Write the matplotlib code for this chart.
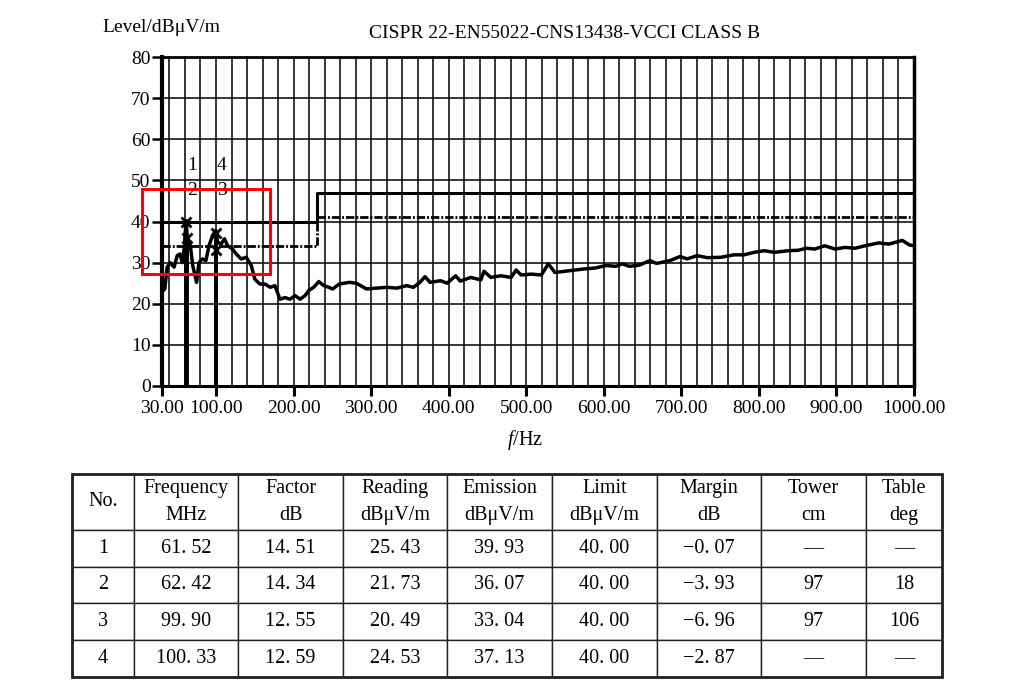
import numpy as np
import matplotlib.pyplot as plt
from matplotlib.patches import Rectangle

plt.rcParams['font.family'] = ['Liberation Serif', 'DejaVu Serif']
plt.rcParams['mathtext.fontset'] = 'custom'
plt.rcParams['mathtext.rm'] = 'Liberation Serif'
plt.rcParams['mathtext.it'] = 'Liberation Serif:italic'

freq = [30, 34, 37, 41, 46, 50, 53.5, 56.5, 59, 61.5, 63, 67, 70, 75, 78, 82.5, 87, 91,
        95.5, 100, 102, 106.5, 111, 115, 121.5, 126, 132.5, 139, 145.5, 150, 156.5, 163,
        170, 176, 182.5, 189, 195.5, 202, 208.5, 215, 219.5, 226, 232.5, 239, 245.5, 250.5,
        259, 272, 281, 294, 307, 320, 333, 346, 354.5, 363, 369.5, 376, 389.5, 398, 409,
        415, 428.5, 441.5, 445.5, 454.5, 467.5, 480.5, 487, 493.5, 506.5, 519.5, 528.5, 537,
        550, 563, 576.5, 589.5, 602.5, 615.5, 624, 633, 646, 659.5, 668, 685.5, 698.5,
        707.5, 720.5, 733.5, 751, 768, 781, 794, 807, 820, 837.5, 850.5, 861.5, 872, 885,
        898, 911, 924, 937, 954.5, 967.5, 985, 994, 1000]
level = [22.8, 23.6, 28.9, 30.0, 28.9, 31.7, 32.1, 30.0, 33.5, 40.2, 36.0, 34.0, 29.3, 25.2,
         30.0, 30.9, 30.5, 34.1, 36.6, 37.8, 35.0, 34.5, 35.8, 34.1, 33.3, 32.1, 30.9, 31.3,
         29.3, 26.0, 24.8, 24.8, 24.0, 24.4, 21.1, 21.5, 21.1, 22.0, 21.1, 22.0, 23.2, 24.0,
         25.4, 24.4, 24.0, 23.6, 24.8, 25.2, 25.0, 23.6, 23.8, 24.0, 23.8, 24.4, 24.0, 25.2,
         26.6, 25.2, 25.6, 25.0, 26.8, 25.5, 26.4, 25.8, 27.9, 26.4, 26.8, 26.4, 28.2, 27.0,
         27.2, 27.0, 29.7, 27.6, 27.9, 28.2, 28.5, 28.7, 29.3, 29.1, 29.7, 29.1, 29.4, 30.5,
         29.8, 30.5, 31.5, 30.9, 31.7, 31.2, 31.3, 31.9, 31.9, 32.5, 32.9, 32.5, 32.9, 33.0,
         33.5, 33.3, 34.1, 33.3, 33.7, 33.5, 34.1, 34.8, 34.5, 35.4, 34.3, 34.1]

# class B limits
limit_freq = [30, 230, 230, 1000]
limit_qp = [40, 40, 47, 47]
limit_av = [34, 34, 41, 41]

# marker table
marker_no = [1, 2, 3, 4]
marker_freq = [61.52, 62.42, 99.90, 100.33]
factor = [14.51, 14.34, 12.55, 12.59]
reading = [25.43, 21.73, 20.49, 24.53]
emission = [39.93, 36.07, 33.04, 37.13]
limit = [40.00, 40.00, 40.00, 40.00]
margin = [-0.07, -3.93, -6.96, -2.87]
tower = [None, 97, 97, None]
table_deg = [None, 18, 106, None]

xticks = [30, 100, 200, 300, 400, 500, 600, 700, 800, 900, 1000]
yticks = [0, 10, 20, 30, 40, 50, 60, 70, 80]
label_row = [0, 1, 1, 0]   # 0 = upper number row, 1 = lower

W, H = 1013, 688
fig = plt.figure(figsize=(W / 100, H / 100), dpi=100)
fig.patch.set_facecolor('white')

ax = fig.add_axes([161.7 / W, 1 - 386 / H, (914 - 161.7) / W, (386 - 57) / H])
ax.set_xlim(30, 1000)
ax.set_ylim(0, 80)

# grid
for gx in np.arange(40, 1000, 20):
    ax.axvline(gx, color='black', lw=1.1, zorder=1)
for gy in yticks[1:-1]:
    ax.axhline(gy, color='black', lw=1.1, zorder=1)

ax.plot(limit_freq, limit_qp, color='black', lw=2.2, zorder=3)
ax.plot(limit_freq, limit_av, color='black', lw=2.0, dashes=(3, 0.7, 0.7, 0.7), zorder=3)
ax.plot(freq, level, color='black', lw=2.5, zorder=4)

# markers
ax.vlines(marker_freq, 0, emission, color='black', lw=2.8, zorder=5)
ax.plot(marker_freq, emission, 'x', color='black', ms=7, mew=2, zorder=6)
for n, f, r in zip(marker_no, marker_freq, label_row):
    ax.annotate(str(n), (f, 53.6 - 6.1 * r), xytext=(4, 0), textcoords='offset points',
                ha='center', va='center', fontsize=14, annotation_clip=False)

# highlight box
ax.add_patch(Rectangle((5, 27.3), 164.6, 20.7, fill=False, edgecolor='red', lw=2.2,
                       clip_on=False, zorder=7))

ax.set_xticks(xticks)
ax.set_xticklabels([f"{v:.2f}" for v in xticks])
ax.set_yticks(yticks)
ax.tick_params(axis='x', direction='out', length=7, width=2.2, labelsize=14, pad=3)
ax.tick_params(axis='y', direction='out', length=7, width=1.8, labelsize=14, pad=1)
for side, lw in [('left', 3), ('right', 2.5), ('top', 2), ('bottom', 2.2)]:
    ax.spines[side].set_linewidth(lw)

fig.text(102 / W, 1 - 28 / H, 'Level/dBμV/m', fontsize=14, ha='left', va='center')
fig.text(565 / W, 1 - 33 / H, 'CISPR 22-EN55022-CNS13438-VCCI CLASS B', fontsize=14,
         ha='center', va='center')
fig.text(525 / W, 1 - 440 / H, r'$f$/Hz', fontsize=14.5, ha='center', va='center')

# table
def fmt(v):
    return f"{v:.2f}".replace('.', '. ').replace('-', '−')

cols = ['No.', 'Frequency\nMHz', 'Factor\ndB', 'Reading\ndBμV/m', 'Emission\ndBμV/m',
        'Limit\ndBμV/m', 'Margin\ndB', 'Tower\ncm', 'Table\ndeg']
rows = []
for i in range(len(marker_no)):
    rows.append([str(marker_no[i]), fmt(marker_freq[i]), fmt(factor[i]), fmt(reading[i]),
                 fmt(emission[i]), fmt(limit[i]), fmt(margin[i]),
                 '—' if tower[i] is None else str(tower[i]),
                 '—' if table_deg[i] is None else str(table_deg[i])])

col_w = [62, 104, 105, 104, 105, 105, 104, 105, 76]
tx0, tx1, ty0, ty1 = 72, 942, 474, 677
axt = fig.add_axes([tx0 / W, 1 - ty1 / H, (tx1 - tx0) / W, (ty1 - ty0) / H])
axt.axis('off')
tab = axt.table(cellText=rows, colLabels=cols, colWidths=[w / sum(col_w) for w in col_w],
                cellLoc='center', bbox=[0, 0, 1, 1])
tab.auto_set_font_size(False)
for (r, c), cell in tab.get_celld().items():
    cell.set_linewidth(1.0)
    cell.set_edgecolor('#222222')
    cell.set_height(56 if r == 0 else 37)
    cell.get_text().set_fontsize(14.5)
    cell.get_text().set_linespacing(1.55)
axt.add_patch(Rectangle((0, 0), 1, 1, fill=False, lw=2.0, edgecolor='#222222',
                        transform=axt.transAxes, clip_on=False))

fig.savefig('out.png', dpi=100)
